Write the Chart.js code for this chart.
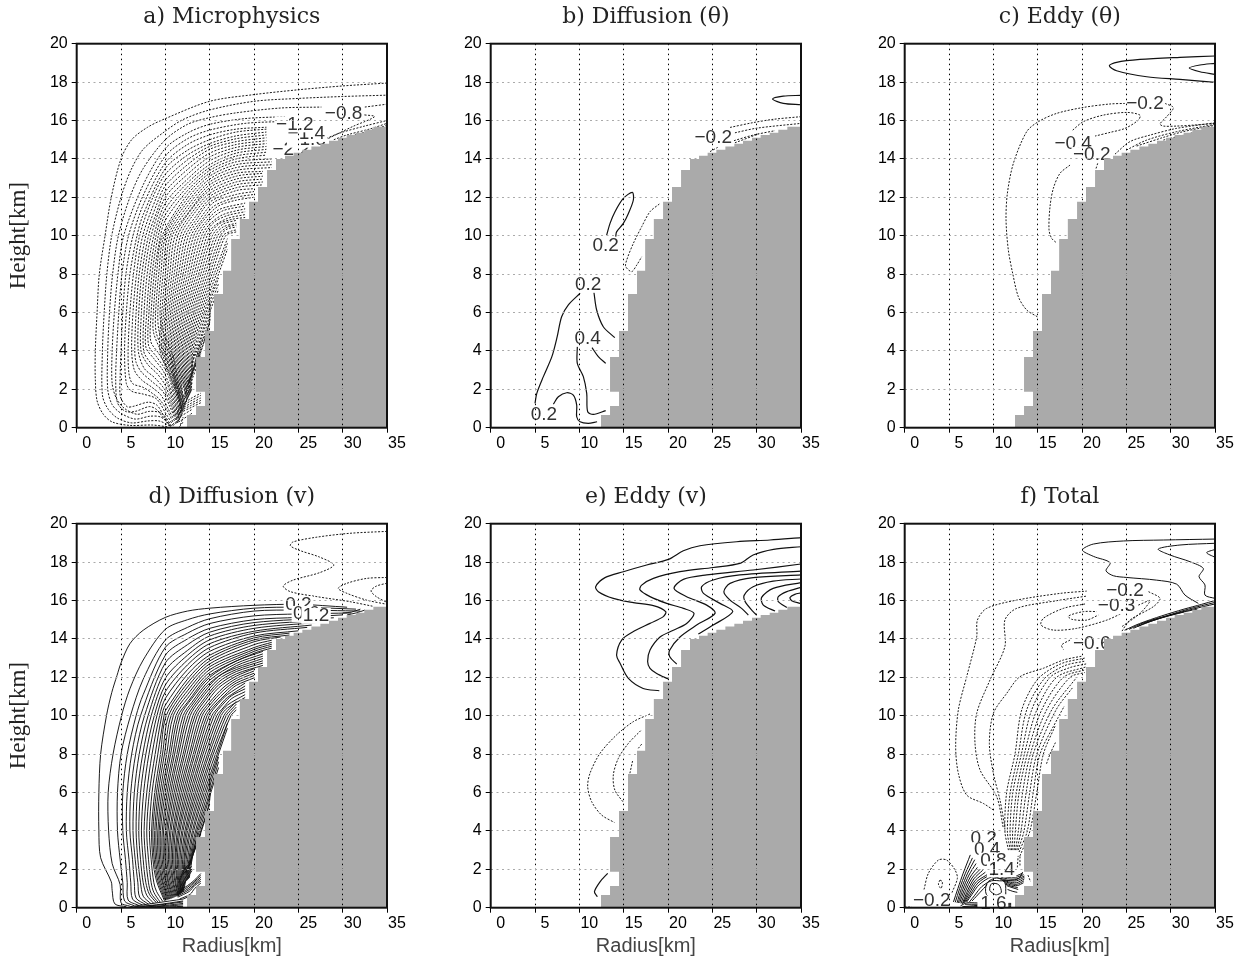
<!DOCTYPE html>
<html lang="en">
<head>
<meta charset="UTF-8">
<title>Budget panels</title>
<script src="https://cdn.jsdelivr.net/npm/chart.js"></script>
<style>
    body { margin: 0; background: #fff; }
    #page { position: relative; width: 1244px; height: 964px; overflow: hidden; }
    canvas { position: absolute; }
</style>
</head>
<body>
<div id="page"></div>
<script>
// axis values
const radiusTicks = [0, 5, 10, 15, 20, 25, 30, 35];
const heightTicks = [0, 2, 4, 6, 8, 10, 12, 14, 16, 18, 20];

// grey terrain, stair corners (radius, height)
const terrainR = [12.44, 12.44, 13.46, 14.47, 13.46, 14.47, 15.49, 16.5, 17.42, 18.4, 19.44, 20.45, 21.47, 22.48, 23.5, 24.47, 25.45, 26.47, 27.48, 28.46, 29.47, 30.45, 31.47, 32.44, 33.46, 35, 35];
const terrainZ = [0, 0.66, 1.13, 1.875, 3.68, 5.03, 6.96, 8.18, 9.83, 10.87, 11.77, 12.53, 13.42, 13.99, 14.17, 14.32, 14.48, 14.65, 14.79, 14.95, 15.1, 15.24, 15.36, 15.52, 15.68, 15.68, 0];

// contours are flat lists: r, z, r, z ...
const microNeg = [
  [10.2,.05, 8.5,.14, 6,.12, 4,.3, 3,.7, 2.3,1.4, 2.1,2.5, 2.1,4, 2.3,6, 2.55,8, 3.2,10, 3.9,12, 5,14, 6.2,15, 8,15.65, 10,16.1, 15,17, 20,17.35, 25,17.6, 30,17.8, 35,17.95],
  [10.5,.1, 9.3,.35, 8,.35, 6.2,.25, 4.6,.5, 3.5,1, 2.9,1.7, 2.9,4, 3.1,6, 3.4,8, 3.95,10, 5,12, 6.1,13.4, 7.5,14.5, 10,15.45, 12,16.05, 15,16.55, 20,17, 25,17.15, 30,17.25, 35,17.32],
  [10.6,.1, 9.5,.55, 8.3,.6, 6.6,.45, 5,.75, 4,1.2, 3.5,2, 3.5,4, 3.7,6, 4.05,8, 4.7,10, 6,12, 7.5,13.5, 10,15, 12.5,15.8, 15,16.15, 18,16.4, 23,16.65, 27.6,16.7],
  [10.7,.1, 9.6,.75, 8.2,.85, 6.8,.7, 5.4,1, 4.5,1.5, 4,2.3, 4,4, 4.25,6, 4.65,8, 5.3,10, 7.5,12.65, 10,14.55, 12.5,15.35, 15,15.8, 19,16.1, 23.5,16.2],
  [10.5,.08, 9.8,.5, 9,.95, 8.2,1.1, 6.6,.85, 5.5,.85, 4.6,1.3, 4.4,2.5, 4.5,4, 4.75,6, 5.1,8, 5.85,10, 7.5,12.1, 10,14.15, 12.5,15.05, 15,15.5, 19,15.85, 23.3,15.95],
  [10.6,.06, 9.9,.55, 9.08,1.16, 8.1,1.33, 6.45,1.12, 5.7,1.09, 4.94,1.6, 4.9,2.6, 5,4, 5.2,6, 5.55,8, 6.35,10, 7.5,11.6, 10,13.8, 12.5,14.75, 15,15.25, 18,15.55, 21.4,15.65],
  [10.9,.1, 10.1,.7, 9,1.5, 7.5,1.75, 6.2,1.9, 5.6,2.3, 5.4,4, 5.6,6, 6,8, 6.8,10, 7.5,11.1, 10,13.5, 12.5,14.45, 15,15, 18,15.4, 21.4,15.55],
  [11,.15, 10.2,.9, 9.3,1.5, 8.5,1.8, 7.5,2.1, 6.3,2.3, 5.9,2.8, 5.8,4, 6,6, 6.4,8, 7.1,10, 8.5,11.9, 10,13.2, 12.5,14.2, 15,14.8, 18,15.2, 21.4,15.4],
  [11.2,.2, 10.3,1, 9.5,1.7, 8.5,2.1, 7.3,2.5, 6.5,3, 6.2,4, 6.35,6, 6.75,8, 7.45,10, 9,12, 10,12.9, 12.5,13.95, 15,14.65, 18,15.05, 21.4,15.25],
  [11.3,.25, 10.5,1.1, 9.7,1.9, 8.5,2.4, 7.3,2.9, 6.7,3.4, 6.55,4, 6.7,6, 7.05,8, 7.8,10, 9,11.6, 10,12.6, 12.5,13.7, 15,14.5, 18,14.9, 21.4,15.1],
  [11.4,.25, 10.6,1.2, 9.9,2, 8.8,2.6, 7.6,3.1, 6.95,4, 7,6, 7.35,8, 8.1,10, 9,11.2, 10,12.3, 12.5,13.45, 15,14.3, 18,14.75, 21.4,14.95],
  [11.45,.3, 10.7,1.3, 10,2.2, 9.1,2.8, 8,3.3, 7.25,4, 7.3,6, 7.65,8, 8.4,10, 10,12, 12.5,13.2, 15,14.1, 18,14.6, 21.4,14.8],
  [11.5,.35, 10.8,1.4, 10.2,2.3, 9.4,2.9, 8.3,3.4, 7.55,4, 7.6,6, 7.95,8, 8.7,10, 10,11.7, 12.5,12.95, 15,13.9, 18,14.45, 21.4,14.65],
  [11.6,.4, 10.9,1.5, 10.3,2.4, 9.7,3, 8.7,3.6, 7.8,4.2, 7.9,6, 8.25,8, 8.95,10, 10,11.4, 12.5,12.75, 15,13.7, 18,14.3, 21.4,14.5],
  [11.6,.45, 11,1.6, 10.5,2.5, 9.9,3.1, 9,3.7, 8.1,4.3, 8.15,6, 8.5,8, 9.2,10, 10,11.1, 12.5,12.55, 15,13.55, 18,14.15, 21.4,14.35],
  [11.7,.5, 11.1,1.7, 10.6,2.6, 10,3.3, 9.2,3.9, 8.35,4.5, 8.4,6, 8.75,8, 9.45,10, 10,10.8, 12.5,12.35, 15,13.4, 18,14, 21.4,14.2],
  [11.7,.55, 11.2,1.8, 10.8,2.7, 10.2,3.5, 9.4,4.1, 8.65,5, 8.65,6, 9,8, 9.65,10, 12.5,12.15, 15,13.25, 18,13.85, 22,14],
  [11.8,.6, 11.3,1.9, 10.9,2.8, 10.4,3.6, 9.6,4.2, 8.95,5, 8.9,6, 9.25,8, 9.85,10, 12.5,11.95, 15,13.1, 18,13.7, 22,13.85],
  [11.8,.65, 11.4,2, 11,2.9, 10.6,3.7, 10,4.3, 9.3,5, 9.15,6, 9.5,8, 10.05,10, 12.5,11.75, 15,12.95, 18,13.55, 22,13.7],
  [11.9,.7, 11.5,2.1, 11.2,3, 10.8,3.8, 10.2,4.5, 9.6,5.2, 9.4,6, 9.75,8, 10.3,10, 12.5,11.55, 15,12.8, 18,13.4, 22,13.55],
  [11.9,.8, 11.3,1.7, 10.7,2.5, 9.4,4, 9.6,6, 10,8, 10.55,10, 12.5,11.35, 15,12.65, 18,13.25, 21,13.35],
  [11.95,.85, 11.4,1.7, 10.85,2.5, 9.6,4, 9.8,6, 10.25,8, 10.8,10, 12.5,11.15, 15,12.5, 18,13.1, 21,13.25],
  [12,.9, 11.45,1.7, 11,2.5, 9.8,4, 10,6, 10.5,8, 11.1,10, 13,11.4, 15,12.35, 18,12.95, 21,13.1],
  [12,.95, 11.55,1.7, 11.1,2.5, 10,4, 10.2,6, 10.75,8, 11.4,10, 13,11.2, 15,12.2, 18,12.8, 21,12.95],
  [12.05,1, 11.6,1.7, 11.2,2.5, 10.2,4, 10.4,6, 11,8, 11.7,10, 13,11, 15,12.05, 18,12.65, 21,12.8],
  [12.1,1.05, 11.7,1.7, 11.3,2.5, 10.4,4, 10.6,6, 11.25,8, 12,10, 13.5,11.05, 15,11.9, 18,12.5, 21,12.65],
  [12.1,1.1, 11.75,1.7, 11.4,2.5, 10.55,4, 10.8,6, 11.5,8, 12.3,10, 13.5,10.85, 15,11.75, 18,12.35, 20,12.45],
  [12.15,1.15, 11.8,1.8, 11.5,2.5, 10.7,4, 11,6, 11.75,8, 12.6,10, 14,10.95, 15.5,11.75, 18,12.15, 20,12.3],
  [12.2,1.2, 11.85,1.8, 11.6,2.5, 10.85,4, 11.2,6, 12,8, 12.9,10, 14,10.75, 15.5,11.55, 18,12, 20,12.15],
  [12.25,1.25, 11.9,1.8, 11.7,2.5, 11,4, 11.4,6, 12.25,8, 13.2,10, 14.5,10.9, 16,11.55, 18,11.85, 20,12],
  [12.3,1.3, 11.95,1.8, 11.8,2.5, 11.15,4, 11.6,6, 12.5,8, 13.5,10, 14.5,10.7, 16,11.35, 19,11.7],
  [12.4,1.35, 11.9,2.5, 11.3,4, 11.8,6, 12.75,8, 13.8,10, 15,10.8, 16.5,11.3, 19,11.55],
  [12.4,1.4, 12,2.5, 11.45,4, 12,6, 13,8, 14.1,10, 15,10.6, 16.5,11.1, 19,11.4],
  [12.45,1.45, 12.1,2.5, 11.6,4, 12.2,6, 13.25,8, 14.4,10, 15.5,10.7, 17,11.05, 19,11.25],
  [12.5,1.5, 12.2,2.5, 11.75,4, 12.4,6, 13.5,8, 14.7,10, 15.5,10.5, 17,10.9, 19,11.1],
  [12.55,1.55, 12.3,2.5, 11.9,4, 12.6,6, 13.75,8, 15,10, 16,10.6, 17.5,10.85, 19,10.95],
  [12.6,1.6, 12.4,2.5, 12.05,4, 12.8,6, 14,8, 15.3,10, 16.5,10.6, 18,10.8],
  [12.65,1.65, 12.5,2.5, 12.2,4, 13,6, 14.25,8, 15.6,10, 16.5,10.45, 18,10.65],
  [12.7,1.7, 12.6,2.5, 12.35,4, 13.2,6, 14.5,8, 15.9,10, 17,10.45, 18,10.55],
  [12.75,1.75, 12.7,2.5, 12.5,4, 13.4,6, 14.75,8, 16.2,10, 17,10.35, 18,10.45],
  [12.8,1.8, 12.8,2.5, 12.65,4, 13.6,6, 15,8, 16.5,10, 17.5,10.25, 18,10.3],
  [12.85,1.85, 12.9,2.5, 12.8,4, 13.8,6, 15.25,8, 16.8,10, 18,10.2],
  [12.9,1.9, 13,2.6, 12.95,4, 14,6, 15.5,8, 17,9.85],
  [13,2.7, 13.1,4, 14.2,6, 15.75,8, 17,9.6],
  [13,3, 13.25,4, 14.4,6, 16,8, 17,9.3],
  [13,3.2, 13.4,4, 14.6,6, 16,7.8],
  [13,3.4, 13.55,4, 14.8,6, 16,7.5],
  [12.8,2.5, 13.7,4, 15,6, 16,7.2],
  [12.7,2.4, 13.85,4, 15,5.8, 15,6.6],
  [12.6,2.3, 14,4, 15,5.5, 15,6.2],
  [12.5,2.2, 13,2.9, 14,3.95, 14.8,5.2, 15,5.55],
  [12.4,2.1, 13,2.8, 14,4.4, 15,5.2],
  [12.3,2, 13,2.7, 14,4.1],
  [12.2,1.8, 13,2.5, 14,3.85],
  [12.1,1.6, 13,2.3],
  [11.9,1.35, 12.6,1.8, 13,2.05],
  [11.6,1.1, 12.8,1.5, 14,1.8],
  [11.5,1, 12.8,1.38, 14,1.68],
  [11.4,.9, 12.8,1.25, 14,1.55],
  [11.35,.8, 12.85,1.15, 14,1.42],
  [11.3,.7, 12.9,1.05, 14,1.3],
  [11.4,.5, 13,.95],
  [11.5,.3, 13,.75],
  [11.7,.15, 12,.55],
  [11.6,.05, 12,.3],
  [32.5,16.7, 35,16.85],
  [27.7,14.9, 29.4,15.3, 31.2,15.7, 33.6,16.2, 32.3,16.3],
  [27.8,15, 29.7,15.35, 32.4,15.7, 35,16],
  [29,15, 30.5,15.25, 33,15.55, 35,15.85],
  [31,15.2, 33,15.45, 35,15.75]
];
const microLabels = [['−2.2',24.2,14.5], ['−1.8',26,15], ['−1.4',25.9,15.3], ['−1.2',24.6,15.8], ['−0.8',30.1,16.35]];

const diffThetaPos = [
  [5,1.27, 5.2,1.79, 5.94,2.66, 6.9,3.7, 7.5,4.74, 8,5.78, 8.76,6.4, 10.08,7],
  [11.65,7.03, 11.95,6.13, 12.7,5.26, 14,4.69],
  [7.07,1.23, 7.63,1.61, 8.57,1.82, 9.32,1.7, 9.7,1.18, 9.7,.57, 10.08,.31, 11,.23, 12,.31],
  [9.77,4.22, 9.77,3.35, 10.45,2.66, 10.83,1.79, 10.94,.83, 11.58,.69, 12.97,.89],
  [11.43,4.17, 12.14,3.7, 12.97,3.35],
  [13.08,10.03, 13.46,10.64, 14.02,11.25, 14.96,11.94, 15.98,12.26, 16.09,11.86, 15.53,11.16, 14.96,10.64, 14.2,10.2, 14.1,9.95],
  [35,17.31, 33,17.27, 31.8,17.12, 33,16.89, 35,16.82]
];
const diffThetaNeg = [
  [19.02,11.65, 17.97,11.25, 17.03,10.47, 16.09,9.6, 15.34,8.73, 15.23,8.39, 15.9,8.13, 16.47,8.47, 17.03,8.9],
  [27,15.64, 29.6,15.89, 31.86,16.06, 35,16.2],
  [27.55,15.36, 30,15.6, 35,15.85],
  [27.44,14.95, 29.6,15.24, 32.07,15.47],
  [27.55,14.84, 30.2,15.3],
  [24.74,14.38, 25.6,14.6]
];
const diffThetaLabels = [['0.2',12.97,9.46], ['0.2',11,7.47], ['0.4',10.94,4.65], ['0.2',6,.66], ['−0.2',25.1,15.1]];

const eddyThetaPos = [
  [35,19.36, 31.05,19.29, 26.54,19.18, 23.9,19.03, 23.08,18.85, 23.9,18.59, 27.3,18.28, 31.05,18.14, 35,17.99],
  [35,18.98, 33.3,18.89, 32.1,18.73, 33.3,18.54, 35,18.4]
];
const eddyThetaNeg = [
  [14.96,5.78, 13.76,6.13, 12.82,6.82, 12.18,8.04, 11.69,9.25, 11.43,10.82, 11.58,12.2, 12.26,13.77, 13.76,15.42, 15.08,15.94, 17.14,16.37, 20.15,16.68, 23.16,16.86, 24.96,16.89],
  [29.36,16.89, 30.3,16.67, 29.55,16.2, 28.8,15.82, 29.17,15.71, 30.68,15.71, 32.56,15.76, 35,15.85],
  [18.95,15.5, 20.15,15.94, 22.4,16.28, 25.04,16.42, 26.54,16.28, 26.35,16.02, 24.85,15.59, 23.16,15.38, 21.47,15.19],
  [18.65,13.68, 17.52,13.25, 16.77,12.47, 16.39,11.51, 16.28,10.3, 16.58,9.86, 17.07,9.65],
  [21.58,13.5, 21.77,13.77],
  [23.72,14.25, 25.41,14.9, 27.67,15.24, 30.68,15.59, 35,15.88],
  [25,14.46, 27.3,14.98, 30.68,15.42, 35,15.8],
  [26.17,14.67, 29.17,15.12, 31.43,15.42, 35,15.75],
  [29.17,14.98, 31.43,15.24, 33.68,15.5]
];
const eddyThetaLabels = [['−0.4',19,14.8], ['−0.2',27.1,16.89], ['−0.2',21.1,14.2]];

const diffVPos = [
  [5.6,.05, 4.3,.2, 4,.9, 3.9,1.35, 2.7,2.6, 2.5,4, 2.5,6, 2.7,8, 3.36,10, 3.95,11.2, 4.55,12.1, 5,12.75, 6,13.75, 7.5,14.45, 10,15.12, 12.5,15.45, 15,15.6, 20,15.75, 25,15.8, 30.5,15.65],
  [6,.08, 5,.25, 4.9,1.2, 4,2.3, 3.6,4, 3.55,6, 4.1,8, 5.06,10, 6,11.4, 7.5,12.9, 10,14.5, 12.5,15, 15,15.3, 20,15.6, 25,15.65, 31.5,15.55],
  [6.5,.1, 5.4,.35, 5.2,1.3, 4.9,2.5, 4.6,4, 4.6,6, 5,8, 6.07,10, 7.5,11.9, 10,13.94, 12.5,14.6, 15,15.05, 20,15.45, 25,15.5, 32,15.45],
  [7,.12, 5.8,.4, 5.7,1.3, 5.5,2.5, 5.2,4, 5.2,6, 5.7,8, 6.7,10, 7.5,11.1, 10,13.56, 12.5,14.3, 15,14.8, 20,15.2, 25,15.3, 31,15.35],
  [7.4,.14, 6.3,.45, 6.1,1.3, 5.9,2.5, 5.6,4, 5.7,6, 6.2,8, 7.2,10, 10,13.15, 12.5,14, 15,14.55, 20,15, 25,15.12, 30,15.25],
  [7.8,.16, 6.7,.5, 6.5,1.3, 6.3,2.5, 6,4, 6.1,6, 6.65,8, 7.65,10, 10,12.75, 12.5,13.7, 15,14.35, 20,14.85, 29,15.1],
  [8.1,.18, 7.1,.55, 6.9,1.3, 6.6,2.5, 6.35,4, 6.5,6, 7.05,8, 8.05,10, 10,12.35, 12.5,13.4, 15,14.15, 20,14.7, 28,14.98],
  [8.4,.2, 7.5,.6, 7.2,1.3, 6.9,2.5, 6.7,4, 6.85,6, 7.45,8, 8.4,10, 10,11.95, 12.5,13.15, 15,13.95, 20,14.55, 27,14.85],
  [8.7,.22, 7.9,.65, 7.5,1.3, 7.2,2.5, 7,4, 7.2,6, 7.8,8, 8.75,10, 10,11.6, 12.5,12.9, 15,13.75, 20,14.4, 26.5,14.72],
  [9,.25, 8.2,.7, 7.8,1.3, 7.5,2.5, 7.3,4, 7.55,6, 8.15,8, 9.05,10, 10,11.25, 12.5,12.65, 15,13.55, 20,14.3, 26,14.6],
  [9.2,.27, 8.4,.75, 8.1,1.3, 7.8,2.5, 7.6,4, 7.9,6, 8.5,8, 9.35,10, 10,10.9, 12.5,12.4, 15,13.35, 20,14.15, 25,14.42],
  [9.4,.3, 8.7,.8, 8.4,1.3, 8.1,2.5, 7.9,4, 8.2,6, 8.85,8, 9.6,10, 10,10.55, 12.5,12.15, 15,13.15, 20,14.05, 24,14.3],
  [9.7,.33, 9,.85, 8.7,1.3, 8.4,2.5, 8.2,4, 8.5,6, 9.15,8, 9.85,10, 10,10.25, 12.5,11.9, 15,13, 20,13.95, 24,14.2],
  [9.9,.36, 9,1.4, 8.6,2.5, 8.45,4, 8.8,6, 9.45,8, 10.1,10, 12.5,11.7, 15,12.85, 20,13.85, 23,14.1],
  [10,.38, 9.15,1.4, 8.75,2.5, 8.6,4, 9,6, 9.68,8, 10.37,10, 12.5,11.5, 15,12.7, 20,13.7, 22,13.93],
  [10.1,.39, 9.3,1.4, 8.9,2.5, 8.8,4, 9.2,6, 9.9,8, 10.65,10, 12.5,11.3, 15,12.55, 20,13.55, 22,13.82],
  [10.2,.41, 9.45,1.4, 9.05,2.5, 8.95,4, 9.4,6, 10.15,8, 10.9,10, 12.5,11.1, 15,12.4, 20,13.45, 22,13.72],
  [10.3,.42, 9.6,1.4, 9.2,2.5, 9.15,4, 9.6,6, 10.4,8, 11.2,10, 12.5,10.9, 15,12.25, 20,13.35, 22,13.62],
  [10.4,.44, 9.7,1.4, 9.35,2.5, 9.3,4, 9.8,6, 10.6,8, 11.45,10, 12.5,10.7, 15,12.1, 20,13.25, 22,13.52],
  [10.5,.45, 9.85,1.4, 9.5,2.5, 9.45,4, 10,6, 10.85,8, 11.7,10, 13,10.9, 15,12, 18,12.85, 21,13.35],
  [10.6,.47, 10,1.4, 9.65,2.5, 9.65,4, 10.2,6, 11.05,8, 12,10, 13,10.7, 15,11.85, 18,12.72, 21,13.22],
  [10.7,.48, 10.1,1.4, 9.8,2.5, 9.8,4, 10.4,6, 11.3,8, 12.25,10, 13,10.55, 15,11.7, 18,12.6, 21,13.1],
  [10.8,.5, 10.25,1.4, 9.95,2.5, 10,4, 10.6,6, 11.5,8, 12.55,10, 14,11, 16,12.05, 18,12.5, 21,12.98],
  [10.9,.52, 10.35,1.4, 10.05,2.5, 10.15,4, 10.8,6, 11.75,8, 12.8,10, 14,10.85, 16,11.9, 18,12.4, 21,12.86],
  [11,.54, 10.5,1.4, 10.2,2.5, 10.3,4, 11,6, 12,8, 13.1,10, 14,10.65, 16,11.75, 18,12.3, 21,12.74],
  [11.1,.56, 10.65,1.4, 10.35,2.5, 10.5,4, 11.2,6, 12.2,8, 13.35,10, 14.5,10.8, 16,11.6, 18,12.18, 21,12.62],
  [11.2,.58, 10.8,1.4, 10.5,2.5, 10.65,4, 11.4,6, 12.45,8, 13.6,10, 14.5,10.6, 16,11.45, 18,12.06, 20,12.45],
  [11.3,.6, 10.9,1.4, 10.65,2.5, 10.85,4, 11.6,6, 12.7,8, 13.9,10, 15,10.7, 16.5,11.45, 18,11.94, 20,12.33],
  [11.4,.62, 11.05,1.4, 10.8,2.5, 11,4, 11.8,6, 12.9,8, 14.15,10, 15,10.55, 16.5,11.3, 18,11.82, 20,12.21],
  [11.45,.64, 11.15,1.4, 10.95,2.5, 11.15,4, 12,6, 13.15,8, 14.45,10, 15.5,10.65, 17,11.35, 18,11.7, 20,12.09],
  [11.5,.66, 11.3,1.4, 11.1,2.5, 11.35,4, 12.2,6, 13.35,8, 14.7,10, 15.5,10.5, 17,11.2, 18,11.58, 20,11.97],
  [11.55,.68, 11.4,1.4, 11.2,2.5, 11.5,4, 12.4,6, 13.6,8, 14.95,10, 16,10.65, 17,11.1, 19,11.7],
  [11.6,.7, 11.5,1.4, 11.35,2.5, 11.65,4, 12.6,6, 13.8,8, 15.25,10, 16,10.45, 17,10.95, 19,11.55],
  [11.65,.72, 11.6,1.4, 11.5,2.5, 11.85,4, 12.8,6, 14.05,8, 15.5,10, 16.5,10.6, 17.5,11.05, 19,11.4],
  [11.7,.74, 11.7,1.4, 11.65,2.5, 12,4, 13,6, 14.25,8, 15.8,10, 16.5,10.4, 17.5,10.9, 19,11.25],
  [11.75,.76, 11.8,1.4, 11.8,2.5, 12.2,4, 13.2,6, 14.5,8, 16.05,10, 17,10.55, 19,11.1],
  [11.8,.78, 11.9,1.4, 11.95,2.5, 12.35,4, 13.4,6, 14.75,8, 16.3,10, 17,10.4, 19,10.95],
  [11.85,.8, 12,1.4, 12.1,2.5, 12.5,4, 13.6,6, 14.95,8, 16.6,10, 17.5,10.5, 18,10.75],
  [11.9,.82, 12.1,1.4, 12.2,2.5, 12.7,4, 13.8,6, 15.2,8, 16.85,10, 17.5,10.35, 18,10.6],
  [11.95,.84, 12.2,1.4, 12.35,2.5, 12.85,4, 14,6, 15.4,8, 17.15,10, 18,10.45],
  [12,.86, 12.3,1.4, 12.5,2.5, 13.05,4, 14.2,6, 15.65,8, 17.4,10, 18,10.3],
  [12.4,1.4, 12.65,2.5, 13.2,4, 14.4,6, 15.85,8, 17,9.6],
  [12.5,1.45, 12.75,2.5, 13.4,4, 14.6,6, 16,8, 17,9.35],
  [12.6,1.5, 12.85,2.5, 13.55,4, 14.8,6, 16,7.85],
  [12.7,1.55, 13,2.5, 13.7,4, 15,6, 16,7.6],
  [13,2.8, 13.85,4, 15,5.8, 16,7.3],
  [12.85,2.4, 14,4, 15,5.6, 15,6.7],
  [12.7,2.2, 13,2.7, 14,3.9, 15,5.4],
  [12.5,2, 13,2.6, 14,3.85],
  [12.3,1.85, 13,2.5],
  [11.9,1.9, 12.3,2.1, 13,2.4],
  [11.7,1.6, 12.2,2, 13,2.3],
  [11.5,1.3, 12,1.75, 13,2.15],
  [11.6,1, 12.3,1.6, 13,2.02],
  [11.7,.85, 12.4,1.5, 13,1.93],
  [11.2,.75, 12.5,1.15, 13.2,1.4, 14,1.78],
  [11.25,.7, 12.55,1.08, 13.25,1.35, 14,1.68],
  [11.3,.65, 12.6,1, 13.3,1.3, 14,1.58],
  [11.35,.6, 12.65,.93, 13.3,1.22, 14,1.48],
  [11.4,.55, 12.7,.85, 13.3,1.15, 14,1.38],
  [11.6,.45, 12.8,.7, 13.3,1, 14,1.28],
  [12,.45, 13,.65],
  [6,.05, 9,.25, 12,.45],
  [6.5,.05, 9,.15, 12,.35],
  [7,.04, 10,.18, 12,.3],
  [7.5,.03, 10,.12, 12,.22],
  [8,.03, 10,.08, 12,.15],
  [9,.02, 12,.07],
  [30,15.35, 31,15.4, 32,15.55],
  [30.5,15.25, 31.5,15.35, 32.5,15.5]
];
const diffVNeg = [
  [35,19.6, 30.8,19.5, 27.1,19.3, 24.4,19.05, 24.1,18.85, 25.2,18.6, 27.4,18.26, 29,17.85, 27.4,17.45, 24.4,17.06, 23.3,16.75, 24.1,16.46, 27.1,16.2, 30.8,15.94, 33.4,15.7],
  [35,17.2, 32.7,17.15, 30.5,16.9, 29.5,16.63, 30.5,16.37, 32.7,16.02, 35,15.8],
  [35,16.9, 33.8,16.75, 33.2,16.5, 33.8,16.2, 35,15.9]
];
const diffVLabels = [['0.2',25,15.8], ['0.6',25.9,15.3], ['1.2',27,15.2]];

const eddyVPos = [
  [19.02,11.3, 17.2,11.42, 15.53,11.94, 14.59,12.73, 14.2,13.16, 14.77,13.94, 16.09,14.38, 17.97,14.81, 19.47,15.16, 19.74,15.42, 18.35,15.73, 16.09,15.89, 13.83,16.11, 12.14,16.46, 11.84,16.72, 12.89,17.19, 14.96,17.5, 17.59,17.85, 20.04,18.14, 21.73,18.59, 23.6,18.85, 27.74,19.06, 31.5,19.15, 35,19.27],
  [20.04,11.91, 18.72,12.2, 17.97,12.47, 17.7,12.82, 17.97,13.42, 19.1,14.1, 20.6,14.45, 22.1,14.8, 22.93,15.33, 21.73,15.59, 19.85,15.85, 17.97,16.2, 16.84,16.55, 17.03,16.8, 18.35,17.15, 21.35,17.5, 25.1,17.72, 28.1,17.93, 29.6,18.37, 31.9,18.66, 35,18.8],
  [20.98,12.69, 20.2,13.07, 20.2,13.42, 21.35,14.1, 23.23,14.72, 25.3,15.33, 24.36,15.76, 22.1,16.2, 20.68,16.63, 21.73,17.1, 24.36,17.33, 29.6,17.59, 35,17.9],
  [23.42,14.25, 25.1,14.72, 27.3,15.42, 25.86,15.85, 24,16.37, 23.8,16.72, 25.1,17.07, 28.1,17.33, 35,17.53],
  [29.06,15.24, 28.3,15.59, 27,16.02, 26.3,16.46, 27,16.89, 29.6,17.19, 35,17.33],
  [30,15.24, 29.6,15.42, 28.7,15.94, 28.6,16.28, 29.6,16.72, 31.86,17.01, 35,17.12],
  [32.07,15.45, 30.75,15.76, 30.56,16.16, 31.86,16.63, 35,16.93],
  [33.4,15.64, 32.44,15.94, 32.44,16.2, 33.4,16.46, 35,16.68],
  [34.9,15.85, 33.95,15.99, 33.76,16.16, 34.3,16.32, 35,16.4],
  [13.2,1.79, 12.33,1.35, 11.7,.83, 12.03,.57]
];
const eddyVNeg = [
  [17.97,10.09, 16.09,9.69, 14.2,9, 12.33,8.04, 11.2,7, 10.94,6.3, 11.39,5.52, 12.5,4.83, 13.95,4.44],
  [16.92,9.22, 15.53,8.56, 14.4,7.78, 13.83,6.91, 14,6.13, 14.96,5.49],
  [17.03,8.52, 16.65,8.3],
  [16,7.64, 15.7,7]
];

const totalPos = [
  [35,19.2, 29.17,19.15, 24.66,19.1, 21.28,18.94, 20.04,18.63, 21.28,18.3, 23.16,17.97, 22.71,17.55, 23.53,17.29, 25.04,17.2, 28.42,17.06, 30.68,16.85, 31.62,16.28, 33.12,15.85],
  [35,18.98, 31.05,18.89, 28.6,18.68, 29.92,18.37, 32.18,18.02, 33.68,17.67, 33.2,17.24, 33.87,16.81, 33.87,16.28, 35,16.11],
  [35,18.66, 34.06,18.49, 35,18.25],
  [24.8,14.45, 26.5,14.8, 29,15.2, 31.5,15.55, 33.5,15.8, 35,16],
  [25.3,14.5, 27,14.85, 29.5,15.2, 32,15.55, 35,15.9],
  [25.8,14.55, 27.5,14.9, 30,15.25, 32.5,15.55, 35,15.82],
  [26.3,14.65, 28,14.95, 30.5,15.3, 33,15.55],
  [27,14.8, 29,15.1, 31.5,15.4],
  [5.5,.3, 6,1, 6.6,1.8, 7.4,2.75],
  [5.7,.28, 6.2,1, 6.85,1.8, 7.65,2.6],
  [5.9,.25, 6.4,1, 7.1,1.8, 7.9,2.5],
  [6.05,.25, 6.55,.95, 7.25,1.7, 8.05,2.3],
  [6.2,.25, 6.7,.9, 7.4,1.6, 8.2,2.1],
  [6.35,.22, 6.85,.85, 7.6,1.55, 8.5,2],
  [6.5,.2, 7,.8, 7.8,1.5, 8.8,1.95],
  [6.6,.22, 7.15,.78, 7.95,1.42, 9.1,1.85],
  [6.7,.25, 7.3,.75, 8.1,1.35, 9.4,1.75],
  [6.85,.28, 7.45,.72, 8.25,1.28, 9.6,1.68, 10.5,1.6],
  [7,.3, 7.6,.7, 8.4,1.2, 9.8,1.6, 11,1.5],
  [7.3,.3, 7.9,.65, 8.7,1.1, 9.8,1.4, 11,1.4, 12.8,1.5, 13.3,1.85],
  [7.6,.35, 8.1,.6, 8.9,1, 9.3,1.2],
  [10.3,.65, 9.6,.9, 9.8,1.25, 10.6,1.2, 10.9,.8, 10.3,.65],
  [10.9,.45, 10.3,.4, 9.2,.7, 9.3,1.3, 10.4,1.55, 11.3,1.3, 11.4,.7],
  [10.5,1.75, 11.5,1.65, 12.5,1.65, 13.3,1.8],
  [10.7,1.68, 11.55,1.58, 12.55,1.58, 13.4,1.72],
  [10.8,1.6, 11.6,1.5, 12.6,1.5, 13.5,1.65],
  [10.9,1.52, 11.65,1.42, 12.6,1.4, 13.5,1.58],
  [11,1.45, 11.7,1.35, 12.6,1.3, 13.5,1.5],
  [11.15,1.38, 11.8,1.28, 12.65,1.22, 13.45,1.4],
  [11.3,1.3, 11.9,1.2, 12.7,1.15, 13.4,1.3],
  [11.4,1.22, 12,1.12, 12.75,1.05],
  [11.5,1.15, 12.1,1.05, 12.8,.95],
  [11.6,.95, 12.2,.85, 12.7,.8],
  [6.3,.1, 7,.25, 8.2,.25],
  [6.8,.18, 8.2,.18],
  [6.5,.05, 8.2,.12],
  [7,.03, 8.2,.06],
  [11.75,0, 11.75,.25],
  [11.85,0, 11.85,.25],
  [11.95,0, 11.95,.25]
];
const totalNeg = [
  [10,5.09, 8.87,5.43, 6.99,5.87, 6.05,7, 5.75,8.39, 6.05,10.3, 6.99,12.03, 8.12,14.11, 8.2,14.98, 9.25,15.59, 12.63,16.02, 17.52,16.37, 20.53,16.49],
  [11.1,4.2, 10.38,5.78, 8.5,7.17, 7.93,8.56, 8.12,10.12, 9.62,11.86, 11.3,13.6, 11.3,14.98, 12.63,15.59, 17.14,15.99, 20.53,16.23],
  [11.3,4.2, 10.75,5.6, 10,7, 9.55,8.56, 10,10.12, 11.5,11.16, 13,12.03, 15.64,12.47, 17.9,12.9, 19.96,13.1],
  [11.7,3, 11.3,4, 11.5,6, 12.44,8, 13.2,10.3, 15,11.9, 17.6,12.7, 20.3,13],
  [11.9,3, 11.58,4, 11.9,6, 12.82,8, 13.76,10.3, 15.7,11.9, 18,12.6, 20.4,12.85],
  [12.05,3, 11.88,4, 12.2,6, 13.16,8, 14.32,10.3, 16.4,12, 18.6,12.5, 20.5,12.7],
  [12.2,3, 12.18,4, 12.6,6, 13.5,8, 14.9,10.3, 17.14,12, 20.5,12.55],
  [12.35,3, 12.48,4, 12.9,6, 13.83,8, 15.45,10.3, 17.9,12, 20.4,12.4],
  [12.5,3, 12.82,4, 13.3,6, 14.17,8, 16,10.3, 18.65,12, 20.3,12.25],
  [12.65,3, 13.12,4, 13.7,6, 14.5,8, 16.58,10.3, 19.4,12],
  [12.8,3, 13.46,4, 14.1,6, 14.9,8, 17.07,10.3, 19,11.5],
  [12.9,2.9, 13.83,4, 14.5,6, 15.26,8, 17.3,9.9, 18,10.5],
  [13,2.7, 14.13,4, 14.9,6, 15.64,8, 17,9.5],
  [13,2.2, 13,2.7],
  [16,7.5, 16.39,8, 17,8.6],
  [18.65,13.94, 17.7,13.68, 17.9,13.45],
  [20.34,15.82, 17.9,15.59, 15.64,15.07, 15.38,14.72, 16.77,14.46, 19.4,14.55, 22.8,14.98, 24.85,15.42, 26.17,15.71],
  [21.84,15.42, 20.15,15.42, 18.46,15.19, 18.84,15.02, 20.53,14.98, 21.84,15.24],
  [27.5,16.46, 28.8,16.11, 28.05,15.68, 25.4,14.98, 24.47,14.38],
  [26.35,15.76, 27.67,15.99, 26.54,15.33, 24.47,14.63],
  [2.18,.95, 2.67,1.79, 3.8,2.48, 4.74,2.48, 5.68,1.96, 5.94,1.53, 5.3,.75],
  [3.98,1.44, 3.8,1.23, 4.1,1, 4.25,1.35, 3.98,1.44],
  [0,.03, 5,.05],
  [13.9,1.7, 14.2,1.35],
  [12.7,2.1, 12.8,2.7]
];
const totalLabels = [['0.2',8.9,3.6], ['0.4',9.3,3], ['0.8',10,2.45], ['−0.3',23.9,15.7], ['−0.2',24.85,16.5], ['−0.6',21.1,13.77], ['−0.2',3.05,.36], ['1.4',10.94,2], ['1.6',10,.22]];

const panels = [
  { title: 'a) Microphysics',  left: 0,   top: 0,   pos: [],           neg: microNeg,     labels: microLabels,     solidWidth: 1.2 },
  { title: 'b) Diffusion (θ)', left: 414, top: 0,   pos: diffThetaPos, neg: diffThetaNeg, labels: diffThetaLabels, solidWidth: 1.2 },
  { title: 'c) Eddy (θ)',      left: 828, top: 0,   pos: eddyThetaPos, neg: eddyThetaNeg, labels: eddyThetaLabels, solidWidth: 1.2 },
  { title: 'd) Diffusion (v)', left: 0,   top: 480, pos: diffVPos,     neg: diffVNeg,     labels: diffVLabels,     solidWidth: 0.95 },
  { title: 'e) Eddy (v)',      left: 414, top: 480, pos: eddyVPos,     neg: eddyVNeg,     labels: [],              solidWidth: 1.2 },
  { title: 'f) Total',         left: 828, top: 480, pos: totalPos,     neg: totalNeg,     labels: totalLabels,     solidWidth: 1 }
];

function toPoints(flat) {
    const pts = [];
    for (let i = 0; i < flat.length; i += 2) pts.push({ x: flat[i], y: flat[i + 1] });
    return pts;
}

function contourSet(list, dashed, solidWidth) {
    return list.map((flat, i) => ({
        label: (dashed ? 'neg ' : 'pos ') + i,
        data: toPoints(flat),
        showLine: true,
        pointRadius: 0,
        tension: 0.3,
        borderColor: dashed ? '#1a1a1a' : '#111',
        borderWidth: dashed ? 1 : solidWidth,
        borderDash: dashed ? [2, 1.5] : []
    }));
}

// labels go under the terrain, frame goes over everything
const panelExtras = {
    id: 'panelExtras',
    afterDatasetDraw(chart, args) {
        if (args.index !== 1) return;
        const ctx = chart.ctx, x = chart.scales.x, y = chart.scales.y;
        ctx.save();
        ctx.font = '19px "Liberation Sans"';
        ctx.textAlign = 'center';
        ctx.textBaseline = 'middle';
        chart.config.options.contourLabels.forEach(([text, r, z]) => {
            const px = x.getPixelForValue(r), py = y.getPixelForValue(z);
            const w = ctx.measureText(text).width + 3;
            ctx.fillStyle = '#fff';
            ctx.fillRect(px - w / 2, py - 8, w, 16);
            ctx.fillStyle = '#333';
            ctx.fillText(text, px, py);
        });
        ctx.restore();
    },
    afterDraw(chart) {
        const a = chart.chartArea, ctx = chart.ctx;
        ctx.save();
        ctx.strokeStyle = '#111';
        ctx.lineWidth = 2;
        ctx.strokeRect(a.left, a.top, a.right - a.left, a.bottom - a.top);
        ctx.restore();
    }
};

const page = document.getElementById('page');
panels.forEach((p, i) => {
    const lowerRow = i >= 3;
    const canvas = document.createElement('canvas');
    canvas.width = 414;
    canvas.height = lowerRow ? 484 : 480;
    canvas.style.left = p.left + 'px';
    canvas.style.top = p.top + 'px';
    page.appendChild(canvas);

    const terrain = {
        label: 'terrain',
        data: terrainR.map((r, k) => ({ x: r, y: terrainZ[k] })),
        showLine: true,
        stepped: true,
        pointRadius: 0,
        borderWidth: 0,
        backgroundColor: '#aaaaaa',
        fill: 'origin'
    };

    new Chart(canvas, {
        type: 'scatter',
        data: { datasets: [terrain].concat(contourSet(p.neg, true), contourSet(p.pos, false, p.solidWidth)) },
        plugins: [panelExtras],
        options: {
            contourLabels: p.labels,
            responsive: false,
            animation: false,
            layout: { autoPadding: false, padding: { right: 27 } },
            plugins: {
                legend: { display: false },
                tooltip: { enabled: false },
                title: {
                    display: true,
                    fullSize: false,
                    text: p.title,
                    color: '#222',
                    font: { family: '"DejaVu Serif"', size: 22, weight: 'normal' },
                    padding: { top: 4, bottom: 13.3 }
                }
            },
            scales: {
                x: {
                    type: 'linear',
                    min: 0,
                    max: 35,
                    afterBuildTicks(s) { s.ticks = radiusTicks.map(v => ({ value: v })); },
                    afterFit(s) { s.height = lowerRow ? 56.3 : 52.3; },
                    border: { display: false, dash: [1.5, 3.5] },
                    grid: { z: 1, color: '#000', tickColor: '#000', tickBorderDash: [], tickLength: 5 },
                    ticks: { color: '#000', font: { family: '"Liberation Sans"', size: 16 }, labelOffset: 10, padding: 1, maxRotation: 0, autoSkip: false },
                    title: {
                        display: lowerRow,
                        text: 'Radius[km]',
                        color: '#444',
                        font: { family: '"Liberation Sans"', size: 20 },
                        padding: { top: 0, bottom: 6 }
                    }
                },
                y: {
                    type: 'linear',
                    min: 0,
                    max: 20,
                    afterBuildTicks(s) { s.ticks = heightTicks.map(v => ({ value: v })); },
                    afterFit(s) { s.width = 76.7; },
                    border: { display: false, dash: [2, 3.5] },
                    grid: { z: 1, color: '#aaa', tickColor: '#000', tickBorderDash: [], tickLength: 5 },
                    ticks: { color: '#000', font: { family: '"Liberation Sans"', size: 16 }, padding: 4, autoSkip: false },
                    title: {
                        display: i === 0 || i === 3,
                        text: 'Height[km]',
                        color: '#222',
                        font: { family: '"Liberation Serif"', size: 23 },
                        padding: { top: 5, bottom: 0 }
                    }
                }
            }
        }
    });
});
</script>
</body>
</html>
